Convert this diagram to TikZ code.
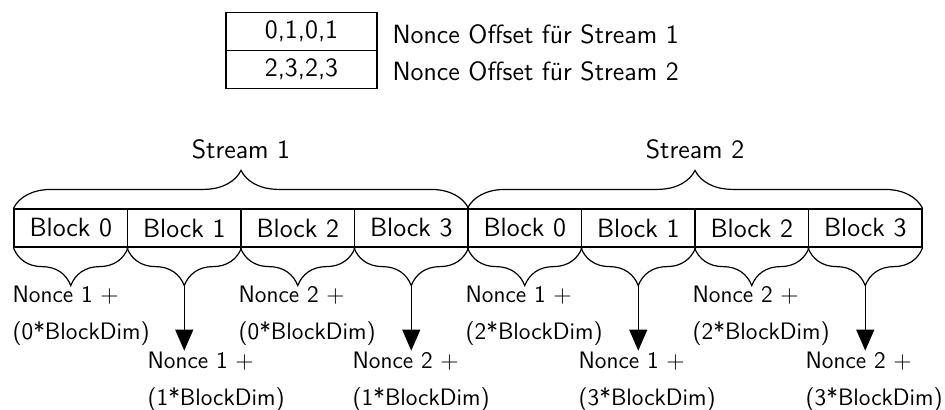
\documentclass[tikz,border=0pt]{standalone}
\usepackage{fontspec}
\usetikzlibrary{decorations.pathreplacing,arrows.meta}
\renewcommand{\familydefault}{\sfdefault}
\begin{document}
\begin{tikzpicture}[x=0.5pt,y=-0.5pt,line width=0.6pt,
  txt/.style={inner sep=0pt,font=\fontsize{13.2}{17}\selectfont},
  cell/.style={draw,minimum width=75.5pt,minimum height=19pt,inner sep=0pt,font=\fontsize{13.2}{17}\selectfont},
  blk/.style={draw,minimum width=56.75pt,minimum height=19pt,inner sep=0pt,font=\fontsize{13.2}{17}\selectfont},
  bigbrace/.style={decorate,decoration={brace,amplitude=19pt}},
  smallbrace/.style={decorate,decoration={brace,amplitude=19pt}},
  arr/.style={-{Triangle[length=10.5pt,width=9pt]}},
  lbl/.style={inner sep=0pt,font=\fontsize{11.9}{18.5}\selectfont,align=left,anchor=base west}]
\useasboundingbox (0,0) rectangle (945,409);

% offset table
\node[cell] (o1) at (301.5,31.5) {0,1,0,1};
\node[cell] (o2) at (301.5,69.5) {2,3,2,3};
\node[txt,anchor=base west] (l1) at (392,43) {Nonce Offset für Stream 1};
\node[txt,anchor=base west] (l2) at (392,80) {Nonce Offset für Stream 2};

% block row
\foreach \i/\n in {0/0,1/1,2/2,3/3,4/0,5/1,6/2,7/3}{
  \node[blk] (b\i) at ({70.75+113.5*\i},228) {Block \n};
}

% stream braces
\draw[bigbrace] (b0.north west) -- (b3.north east);
\draw[bigbrace] (b4.north west) -- (b7.north east);
\node[txt,anchor=base] (s1) at (241,158) {Stream 1};
\node[txt,anchor=base] (s2) at (695,158) {Stream 2};

% braces below each block
\foreach \i in {0,...,7}{
  \draw[smallbrace] (b\i.south east) -- (b\i.south west);
  \path (b\i.south) ++(0,38) coordinate (t\i);
}

% arrows from the odd blocks
\foreach \i in {1,3,5,7}{
  \path (t\i) ++(0,65) coordinate (e\i);
  \draw[arr] (t\i) -- (e\i);
}

% nonce labels (anchored at the baseline of their second line)
\node[lbl] (n0) at (12,339) {Nonce 1 $+$\\(0*BlockDim)};
\node[lbl] (n2) at (238,339) {Nonce 2 $+$\\(0*BlockDim)};
\node[lbl] (n4) at (465,339) {Nonce 1 $+$\\(2*BlockDim)};
\node[lbl] (n6) at (692,339) {Nonce 2 $+$\\(2*BlockDim)};
\node[lbl] (n1) at (147,405) {Nonce 1 $+$\\(1*BlockDim)};
\node[lbl] (n3) at (352,405) {Nonce 2 $+$\\(1*BlockDim)};
\node[lbl] (n5) at (578,405) {Nonce 1 $+$\\(3*BlockDim)};
\node[lbl] (n7) at (805,405) {Nonce 2 $+$\\(3*BlockDim)};
\end{tikzpicture}
\end{document}
